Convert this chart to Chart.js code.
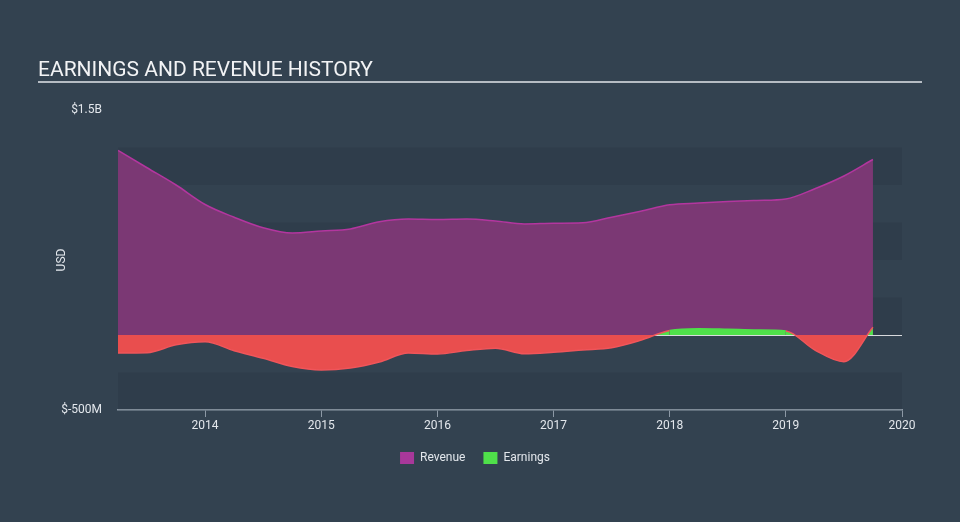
<!DOCTYPE html>
<html>
<head>
<meta charset="utf-8">
<script src="https://cdn.jsdelivr.net/npm/chart.js@4"></script>
<style>
  html, body { margin: 0; padding: 0; background: #334250; }
  #wrap { width: 960px; height: 522px; position: relative; }
</style>
</head>
<body>
<div id="wrap"><canvas id="historyChart" width="960" height="522"></canvas></div>
<script>
// quarterly points, decimal years
const periods = [
    2013.25, 2013.5, 2013.75, 2014, 2014.25, 2014.5, 2014.75,
    2015, 2015.25, 2015.5, 2015.75, 2016, 2016.25, 2016.5, 2016.75,
    2017, 2017.25, 2017.5, 2017.75, 2018, 2018.25, 2018.5, 2018.75,
    2019, 2019.25, 2019.5, 2019.75
];
// values in USD millions
const revenue = [
    1230, 1115, 1000, 870, 785, 715, 680,
    693, 707, 755, 773, 770, 773, 760, 740,
    745, 748, 785, 825, 868, 880, 890, 897,
    907, 975, 1060, 1170
];
const earnings = [
    -120, -118, -65, -45, -105, -155, -210,
    -233, -220, -180, -120, -127, -104, -88, -125,
    -115, -100, -85, -35, 30, 42, 38, 33,
    27, -100, -178, 51
];
const yearTicks = [2014, 2015, 2016, 2017, 2018, 2019, 2020];
const yTicks = [-500, 1500];

const textColor = '#e3e7ec';
const green = '#4fe04a';
const red = '#e94e4e';

function money(v) {
    if (Math.abs(v) >= 1000) return '$' + (v / 1000) + 'B';
    return '$' + v + 'M';
}

// title, underline, stripes and zero line
const decor = {
    id: 'decor',
    beforeDatasetsDraw(chart) {
        const { ctx, chartArea, scales } = chart;
        const y = scales.y;
        ctx.save();
        let dark = true;
        for (let v = 1250; v > -500; v -= 250) {
            if (dark) {
                ctx.fillStyle = 'rgba(20, 30, 40, 0.11)';
                const top = y.getPixelForValue(v);
                const bot = y.getPixelForValue(v - 250);
                ctx.fillRect(chartArea.left, top, chartArea.right - chartArea.left, bot - top);
            }
            dark = !dark;
        }
        const z = Math.round(y.getPixelForValue(0)) + 0.5;
        ctx.strokeStyle = '#d8dadd';
        ctx.lineWidth = 1;
        ctx.beginPath();
        ctx.moveTo(chartArea.left, z);
        ctx.lineTo(chartArea.right, z);
        ctx.stroke();
        ctx.restore();
    },
    afterDraw(chart) {
        const ctx = chart.ctx;
        ctx.save();
        ctx.fillStyle = '#f2f3f5';
        ctx.font = '21px Roboto';
        ctx.textBaseline = 'alphabetic';
        ctx.fillText('EARNINGS AND REVENUE HISTORY', 38, 76);
        ctx.fillStyle = '#b6bcc3';
        ctx.fillRect(38, 81, 884, 2);
        ctx.restore();
    }
};

// fixed legend height and span so the legend sits where the reference has it
const legendPlace = {
    id: 'legendPlace',
    beforeInit(chart) {
        const fit = chart.legend.fit;
        chart.legend.fit = function () {
            fit.call(this);
            this.height = 88;
        };
    },
    afterLayout(chart) {
        chart.legend.left = 48;
        chart.legend.right = 902;
    }
};

const ctx = document.getElementById('historyChart').getContext('2d');
const legendColors = ['#a8389a', green];

new Chart(ctx, {
    type: 'line',
    data: {
        datasets: [{
            label: 'Revenue',
            data: periods.map((p, i) => ({ x: p, y: revenue[i] })),
            borderColor: '#b3369f',
            backgroundColor: 'rgb(123, 56, 116)',
            borderWidth: 1.5,
            pointRadius: 0,
            fill: 'origin',
            cubicInterpolationMode: 'monotone',
            order: 2
        }, {
            label: 'Earnings',
            data: periods.map((p, i) => ({ x: p, y: earnings[i] })),
            borderColor: red,
            segment: {
                borderColor: c => (c.p0.parsed.y + c.p1.parsed.y) / 2 >= 0 ? green : '#f0555a'
            },
            backgroundColor: red,
            borderWidth: 1.5,
            pointRadius: 0,
            fill: { target: { value: 0 }, above: green, below: red },
            cubicInterpolationMode: 'monotone',
            order: 1
        }]
    },
    options: {
        responsive: false,
        animation: false,
        layout: { padding: { top: 110, right: 58, bottom: 0, left: 0 } },
        plugins: {
            tooltip: { enabled: false },
            legend: {
                position: 'bottom',
                labels: {
                    color: textColor,
                    font: { family: 'Roboto', size: 12 },
                    boxWidth: 14,
                    boxHeight: 12,
                    padding: 18,
                    sort: (a, b) => a.datasetIndex - b.datasetIndex,
                    generateLabels(chart) {
                        return chart.data.datasets.map((d, i) => ({
                            text: d.label,
                            fillStyle: legendColors[i],
                            strokeStyle: legendColors[i],
                            lineWidth: 0,
                            fontColor: textColor,
                            datasetIndex: i
                        }));
                    }
                }
            }
        },
        scales: {
            x: {
                type: 'linear',
                min: 2013.25,
                max: 2020,
                afterBuildTicks: s => { s.ticks = yearTicks.map(v => ({ value: v })); },
                afterFit: s => { s.height = 24; },
                ticks: {
                    color: textColor,
                    font: { family: 'Roboto', size: 12 },
                    padding: 2,
                    maxRotation: 0,
                    callback: v => String(v)
                },
                grid: {
                    display: true,
                    drawOnChartArea: false,
                    color: '#8d99a6',
                    tickLength: 7
                },
                border: { color: '#8d99a6', width: 1.5 }
            },
            y: {
                min: -500,
                max: 1500,
                afterBuildTicks: s => { s.ticks = yTicks.map(v => ({ value: v })); },
                afterFit: s => { s.width = 118; },
                ticks: {
                    color: textColor,
                    font: { family: 'Roboto', size: 12 },
                    padding: 8,
                    callback: v => money(v)
                },
                grid: { display: false },
                border: { display: false },
                title: {
                    display: true,
                    text: 'USD',
                    color: textColor,
                    font: { family: 'Roboto', size: 12 },
                    padding: { top: 55, bottom: 0 }
                }
            }
        }
    },
    plugins: [decor, legendPlace]
});
</script>
</body>
</html>
